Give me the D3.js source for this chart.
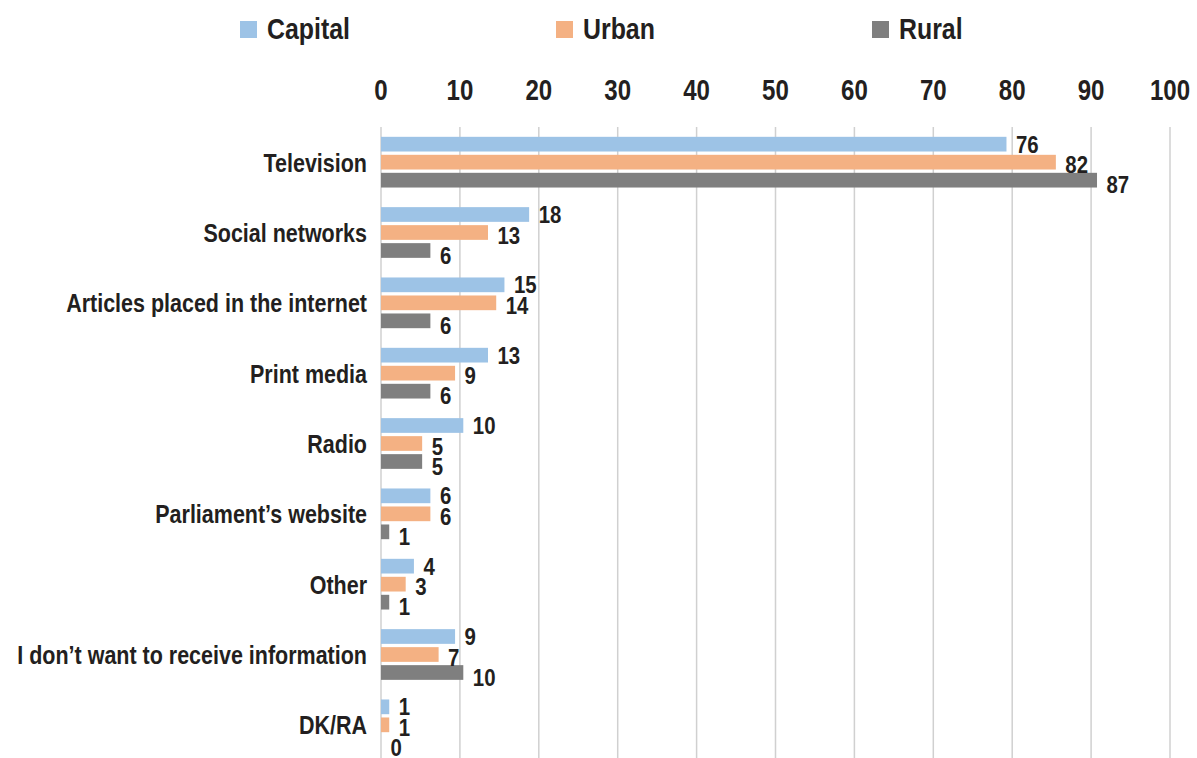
<!DOCTYPE html>
<html>
<head>
<meta charset="utf-8">
<script src="https://cdn.jsdelivr.net/npm/d3@7"></script>
<style>
  html, body { margin: 0; padding: 0; background: #ffffff; }
  svg { display: block; font-family: "Liberation Sans", Arial, Helvetica, sans-serif; font-weight: bold; }
</style>
</head>
<body>
<svg id="chart" width="1197" height="758"></svg>
<script>
// Sources of information, % of respondents by settlement type
const categories = [
  "Television",
  "Social networks",
  "Articles placed in the internet",
  "Print media",
  "Radio",
  "Parliament’s website",
  "Other",
  "I don’t want to receive information",
  "DK/RA"
];
const seriesNames = ["Capital", "Urban", "Rural"];
const capital = [76, 18, 15, 13, 10, 6, 4, 9, 1];
const urban   = [82, 13, 14, 9, 5, 6, 3, 7, 1];
const rural   = [87, 6, 6, 6, 5, 1, 1, 10, 0];
const tickValues = [0, 10, 20, 30, 40, 50, 60, 70, 80, 90, 100];

const seriesValues = { Capital: capital, Urban: urban, Rural: rural };
const colors = { Capital: "#9dc3e6", Urban: "#f4b183", Rural: "#7f7f7f" };
const labelDy = { Capital: 8.5, Urban: 11, Rural: 13 };
const textColor = "#231f20";

const svg = d3.select("#chart");

// places a horizontally condensed text at (px, py)
function place(sel, px, py, squeeze) {
  sel.attr("x", 0).attr("y", 0)
    .attr("transform", function (d, i) {
      return `translate(${px(d, i)},${py(d, i)}) scale(${squeeze},1)`;
    });
}

const plotTop = 127, plotBottom = 760, x0 = 381;

// bar lengths and the printed grid use their own linear scales
const x = d3.scaleLinear().domain([0, 100]).range([x0, x0 + 823]);
const xGrid = d3.scaleLinear().domain([0, 100]).range([x0, 1170]);

const y = d3.scaleBand().domain(categories).range([plotTop, plotBottom]).padding(0);
const ySeries = d3.scaleBand().domain(seriesNames).range([0, y.bandwidth()])
  .paddingInner(0.183).paddingOuter(0.545);

// gridlines
svg.append("g")
  .selectAll("line")
  .data(tickValues)
  .join("line")
  .attr("x1", d => xGrid(d)).attr("x2", d => xGrid(d))
  .attr("y1", plotTop).attr("y2", 758)
  .attr("stroke", "#d0d0d0")
  .attr("stroke-width", 1.5);

// tick labels on top
svg.append("g")
  .selectAll("text")
  .data(tickValues)
  .join("text")
  .call(place, d => xGrid(d), () => 100, 0.83)
  .attr("text-anchor", "middle")
  .attr("font-size", 29)
  .attr("fill", textColor)
  .text(d => d);

// rows
const rows = categories.map((c, i) => ({
  category: c,
  values: seriesNames.map(s => ({ series: s, value: seriesValues[s][i] }))
}));

const groups = svg.append("g")
  .selectAll("g")
  .data(rows)
  .join("g")
  .attr("transform", d => `translate(0,${y(d.category)})`);

groups.selectAll("rect")
  .data(d => d.values)
  .join("rect")
  .attr("x", x(0))
  .attr("y", d => ySeries(d.series))
  .attr("width", d => x(d.value) - x(0))
  .attr("height", ySeries.bandwidth())
  .attr("fill", d => colors[d.series]);

groups.selectAll("text.value")
  .data(d => d.values)
  .join("text")
  .attr("class", "value")
  .call(place,
    d => x(d.value) + 9.5,
    d => ySeries(d.series) + ySeries.bandwidth() / 2 + labelDy[d.series],
    0.85)
  .attr("font-size", 24)
  .attr("fill", textColor)
  .text(d => d.value);

// category labels
svg.append("g")
  .selectAll("text")
  .data(categories)
  .join("text")
  .call(place, () => 367, d => y(d) + y.bandwidth() / 2 + 9.5, 0.86)
  .attr("text-anchor", "end")
  .attr("font-size", 25)
  .attr("fill", textColor)
  .text(d => d);

// legend
const legendX = [240, 556, 872];
const legend = svg.append("g")
  .selectAll("g")
  .data(seriesNames)
  .join("g")
  .attr("transform", (d, i) => `translate(${legendX[i]},0)`);
legend.append("rect")
  .attr("x", 0).attr("y", 21)
  .attr("width", 17).attr("height", 17)
  .attr("fill", d => colors[d]);
legend.append("text")
  .call(place, () => 27, () => 39, 0.83)
  .attr("font-size", 30)
  .attr("fill", textColor)
  .text(d => d);
</script>
</body>
</html>
